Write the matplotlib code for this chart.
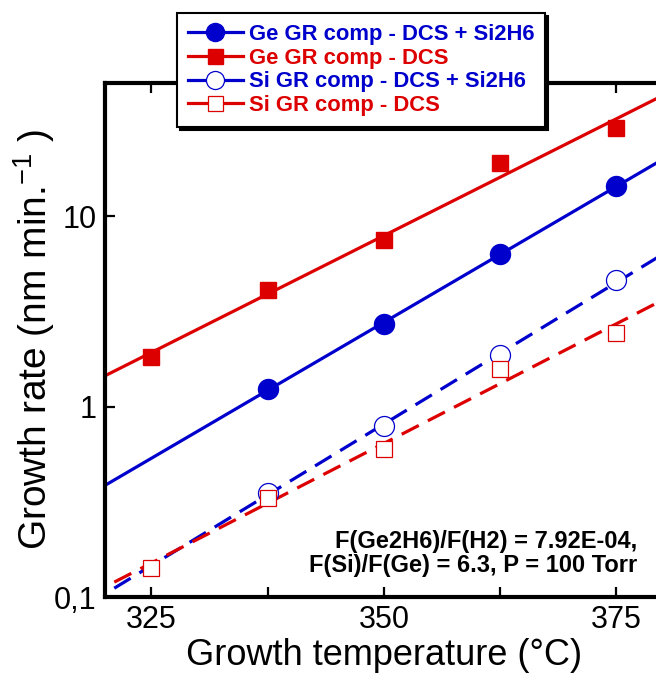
import matplotlib
matplotlib.use("Agg")
import matplotlib.pyplot as plt
import numpy as np

plt.rcParams['font.family'] = ['Liberation Sans', 'DejaVu Sans']
plt.rcParams['mathtext.fontset'] = 'custom'
plt.rcParams['mathtext.rm'] = 'Liberation Sans'

# Growth temperature (C)
temp = [325, 337.5, 350, 362.5, 375]

# Growth rates (nm/min)
ge_dcs_si2h6 = [None, 1.23, 2.73, 6.3, 14.4]
ge_dcs = [1.83, 4.08, 7.5, 19.0, 29.0]
si_dcs_si2h6 = [None, 0.353, 0.79, 1.86, 4.6]
si_dcs = [0.142, 0.332, 0.60, 1.58, 2.42]

labels = ["Ge GR comp - DCS + Si2H6", "Ge GR comp - DCS",
          "Si GR comp - DCS + Si2H6", "Si GR comp - DCS"]

blue = '#0000cc'
red = '#dd0000'

fig = plt.figure(figsize=(6.56, 6.73), dpi=100)
ax = fig.add_axes([0.160, 0.1129, 0.8506, 0.7637])
ax.set_yscale('log')


def fit_line(vals, t0, t1):
    t = np.array([a for a, v in zip(temp, vals) if v is not None])
    v = np.array([v for v in vals if v is not None])
    p = np.polyfit(t, np.log10(v), 1)
    tt = np.array([t0, t1])
    return tt, 10 ** np.polyval(p, tt)


dash = (0, (6, 3.2))
series = [
    (ge_dcs_si2h6, blue, 'o', True, '-', 320),
    (ge_dcs, red, 's', True, '-', 320),
    (si_dcs_si2h6, blue, 'o', False, dash, 321),
    (si_dcs, red, 's', False, dash, 321),
]
handles = []
for (vals, col, mk, filled, ls, t0), lab in zip(series, labels):
    tx, ty = fit_line(vals, t0, 381)
    ax.plot(tx, ty, color=col, lw=2.3, linestyle=ls, zorder=2)
    t = [a for a, v in zip(temp, vals) if v is not None]
    v = [v for v in vals if v is not None]
    ms = 14.4 if mk == 'o' else 12.2
    if filled:
        ax.plot(t, v, mk, color=col, ms=ms, zorder=3)
        h, = ax.plot([], [], color=col, lw=2.3, marker=mk, ms=ms - 1.4, label=lab)
    else:
        ax.plot(t, v, mk, mfc='white', mec=col, mew=0.9, ms=ms, zorder=3)
        h, = ax.plot([], [], color=col, lw=2.3, marker=mk, mfc='white',
                     mec=col, mew=0.9, ms=ms - 1.4, label=lab)
    handles.append(h)

ax.set_xlim(320, 380)
ax.set_ylim(0.1, 50)
ax.set_xticks([325, 350, 375])
ax.set_xticks([337.5, 362.5], minor=True)
ax.set_yticks([0.1, 1, 10])
ax.set_yticklabels(['0,1', '1', '10'])
ax.yaxis.set_minor_locator(matplotlib.ticker.NullLocator())
ax.tick_params(which='both', direction='in', length=7, width=1.6,
               top=True, labelsize=22, pad=6)
for s in ax.spines.values():
    s.set_linewidth(3)

ax.set_xlabel("Growth temperature (°C)", fontsize=26, labelpad=2)
ax.set_ylabel("Growth rate (nm min.$^{-1}$ )", fontsize=28, labelpad=-2)

ax.text(0.971, 0.142, "F(Ge2H6)/F(H2) = 7.92E-04,\nF(Si)/F(Ge) = 6.3, P = 100 Torr",
        transform=fig.transFigure, ha='right', va='bottom', fontsize=17,
        fontweight='bold', linespacing=1.1)

leg = ax.legend(handles=handles, loc='upper left',
                bbox_to_anchor=(177 / 656, 1 - 13 / 673),
                bbox_transform=fig.transFigure,
                prop={'weight': 'bold', 'size': 15.8}, fancybox=False,
                framealpha=1, edgecolor='black', handlelength=2.5,
                handletextpad=0.28, labelspacing=0.12, borderpad=0.5,
                borderaxespad=0, shadow={'color': 'black', 'alpha': 1})
leg.get_frame().set_linewidth(1.5)
for txt, h in zip(leg.get_texts(), handles):
    txt.set_color(h.get_color())

fig.savefig("out.png", dpi=100)
